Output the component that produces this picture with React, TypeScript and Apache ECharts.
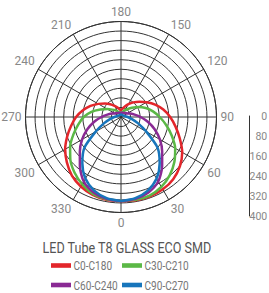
import React, { useEffect, useRef } from "react";
import * as echarts from "echarts";

// Angles (degrees from nadir) for each half-plane
const angles = [0, 10, 20, 30, 40, 50, 60, 70, 80, 90, 100, 110, 120, 130, 140, 150, 160, 170, 180];
// Luminous intensity (cd/klm) readings
const c0 = [352, 354, 354, 350, 340, 322, 296, 262, 232, 206, 180, 152, 124, 100, 80, 62, 47, 35, 28];
const c180 = [352, 352, 347, 336, 320, 296, 270, 240, 212, 188, 162, 136, 110, 88, 70, 54, 42, 33, 28];
const c30 = [350, 352, 350, 338, 318, 292, 262, 226, 192, 162, 136, 110, 84, 60, 44, 32, 24, 18, 15];
const c210 = [350, 350, 343, 325, 303, 277, 246, 212, 182, 156, 126, 92, 66, 48, 36, 26, 20, 16, 15];
const c60 = [352, 348, 336, 312, 268, 225, 188, 150, 114, 82, 58, 42, 30, 26, 22, 20, 19, 18, 18];
const c240 = [352, 348, 336, 312, 268, 225, 188, 150, 114, 82, 58, 42, 30, 26, 22, 20, 19, 18, 18];
const c90 = [352, 345, 328, 298, 252, 200, 122, 75, 45, 28, 18, 14, 12, 11, 10, 10, 10, 10, 10];
const c270 = [352, 345, 328, 298, 252, 200, 122, 75, 45, 28, 18, 14, 12, 11, 10, 10, 10, 10, 10];

const seriesNames = ["C0-C180", "C30-C210", "C60-C240", "C90-C270"];
const seriesColors = ["#e3262b", "#5bb846", "#8a2a94", "#1775bb"];
const rightHalves = [c0, c30, c60, c90];
const leftHalves = [c180, c210, c240, c270];

const angleTicks = [0, 30, 60, 90, 120, 150, 180, 210, 240, 270, 300, 330];
const scaleTicks = [0, 80, 160, 240, 320, 400];

const title = "LED Tube T8 GLASS ECO SMD";

function buildCurve(right: number[], left: number[]) {
  const pts: [number, number][] = [];
  angles.forEach((a, i) => pts.push([right[i], a]));
  for (let i = angles.length - 2; i >= 0; i--) {
    pts.push([left[i], 360 - angles[i]]);
  }
  return pts;
}

export default function App() {
  const ref = useRef<HTMLDivElement>(null);
  useEffect(() => {
    if (!ref.current) return;
    const chart = echarts.init(ref.current, undefined, { renderer: "svg" });
    const font = "Roboto, 'Noto Sans', sans-serif";
    const legendCells = [
      { x: 51, y: 265.5 },
      { x: 122, y: 265.5 },
      { x: 51, y: 285 },
      { x: 122, y: 285 },
    ];
    const legendGraphics: any[] = [];
    seriesNames.forEach((n, i) => {
      const c = legendCells[i];
      legendGraphics.push({
        type: "rect",
        shape: { x: c.x, y: c.y - 2.3, width: 20, height: 4.6 },
        style: { fill: seriesColors[i] },
        silent: true,
      });
      legendGraphics.push({
        type: "text",
        x: c.x + 22.5,
        y: c.y + 0.8,
        scaleX: 0.84,
        style: {
          text: n,
          fontSize: 12,
          fontFamily: font,
          fill: "#777",
          align: "left",
          verticalAlign: "middle",
        },
        silent: true,
      });
    });
    chart.setOption({
      animation: false,
      textStyle: { fontFamily: font },
      graphic: [
        {
          type: "text",
          x: 42.5,
          y: 248,
          scaleX: 0.9,
          style: {
            text: title,
            fontSize: 14,
            fontFamily: font,
            fill: "#555",
            align: "left",
            verticalAlign: "middle",
          },
          silent: true,
        },
        ...legendGraphics,
      ],
      polar: { center: [121, 117], radius: 95.5 },
      angleAxis: {
        type: "value",
        min: 0,
        max: 360,
        interval: 30,
        startAngle: 270,
        clockwise: false,
        axisLine: { show: true, lineStyle: { color: "#333", width: 1 } },
        axisTick: { show: false },
        splitLine: { show: true, lineStyle: { color: "#333", width: 1 } },
        axisLabel: {
          color: "#888",
          fontSize: 12,
          margin: 4,
          fontFamily: font,
          formatter: (v: number) => (angleTicks.includes(v) ? String(v) : ""),
        },
      },
      radiusAxis: {
        type: "value",
        min: 0,
        max: 400,
        interval: 40,
        axisLine: { show: false },
        axisTick: { show: false },
        axisLabel: { show: false },
        splitLine: { show: true, lineStyle: { color: "#333", width: 1 } },
      },
      grid: { left: 249, top: 116, width: 1, height: 100 },
      xAxis: { type: "value", show: false, min: 0, max: 1 },
      yAxis: {
        type: "value",
        position: "right",
        inverse: true,
        min: scaleTicks[0],
        max: scaleTicks[scaleTicks.length - 1],
        interval: 80,
        axisLine: { show: true, lineStyle: { color: "#333", width: 1 } },
        axisTick: { show: false },
        splitLine: { show: false },
        axisLabel: { color: "#888", fontSize: 10.5, align: "right", margin: 18, fontFamily: font },
      },
      series: seriesNames.map((n, i) => ({
        name: n,
        type: "line",
        coordinateSystem: "polar",
        data: buildCurve(rightHalves[i], leftHalves[i]),
        smooth: 0.25,
        symbol: "none",
        lineStyle: { color: seriesColors[i], width: 2.5 },
        itemStyle: { color: seriesColors[i] },
      })),
    });
    return () => chart.dispose();
  }, []);
  return (
    <div
      ref={ref}
      style={{ position: "absolute", left: 0, top: 0, width: 269, height: 293 }}
    />
  );
}
